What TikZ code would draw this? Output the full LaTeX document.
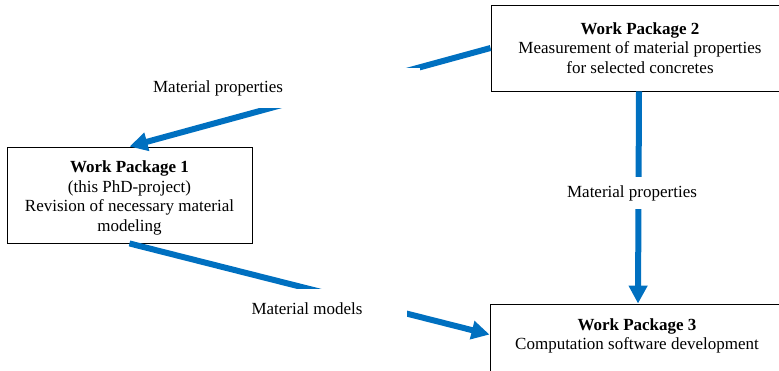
\documentclass[tikz,border=0pt]{standalone}
\usepackage{fontspec}
\setmainfont{Liberation Serif}
\usetikzlibrary{arrows.meta,calc}
\definecolor{flowblue}{RGB}{0,112,192}
\begin{document}
\begin{tikzpicture}[x=1pt,y=-1pt,
  txt/.style={font=\fontsize{17}{19.8}\selectfont},
  wpbox/.style={draw=black,line width=0.9pt,inner sep=0pt},
  wptext/.style={txt,align=center,inner sep=0pt},
  flow/.style={draw=flowblue,line width=6pt,-{Triangle[width=18pt,length=18pt]}},
  lbl/.style={txt,fill=white,inner sep=0pt}]
\useasboundingbox (0,0) rectangle (779,370);
\begin{scope}
\clip (0,0) rectangle (779,370);
% boxes
\node[wpbox,minimum width=245pt,minimum height=96pt] (wp1) at (129.5,195) {};
\node[wpbox,minimum width=296pt,minimum height=86pt] (wp2) at (639,48) {};
\node[wpbox,minimum width=296pt,minimum height=100pt] (wp3) at (638,354) {};
% box texts
\node[wptext] (wp1t) at (129.5,198)
  {\textbf{Work Package 1}\\(this PhD-project)\\Revision of necessary material\\modeling};
\node[wptext] (wp2t) at (640,48)
  {\textbf{Work Package 2}\\Measurement of material properties\\for selected concretes};
\node[wptext] (wp3t) at (637,336)
  {\textbf{Work Package 3}\\Computation software development};
\coordinate (t3) at ($(wp3.north west)+(0,31)$);
% connectors
\draw[flow] (wp2.west) -- (wp1.north);
\draw[flow] (wp2.south) -- (wp3.north);
\draw[flow] (wp1.south) -- (t3);
% labels covering the connectors
\node[lbl,minimum width=404pt,minimum height=40pt] (l1) at (218,88) {Material properties};
\node[lbl,minimum width=150pt,minimum height=32pt] (l2) at (632,193) {Material properties};
\node[lbl,minimum width=200pt,minimum height=40pt] (l3) at (307,309) {Material models};
\end{scope}
\end{tikzpicture}
\end{document}
